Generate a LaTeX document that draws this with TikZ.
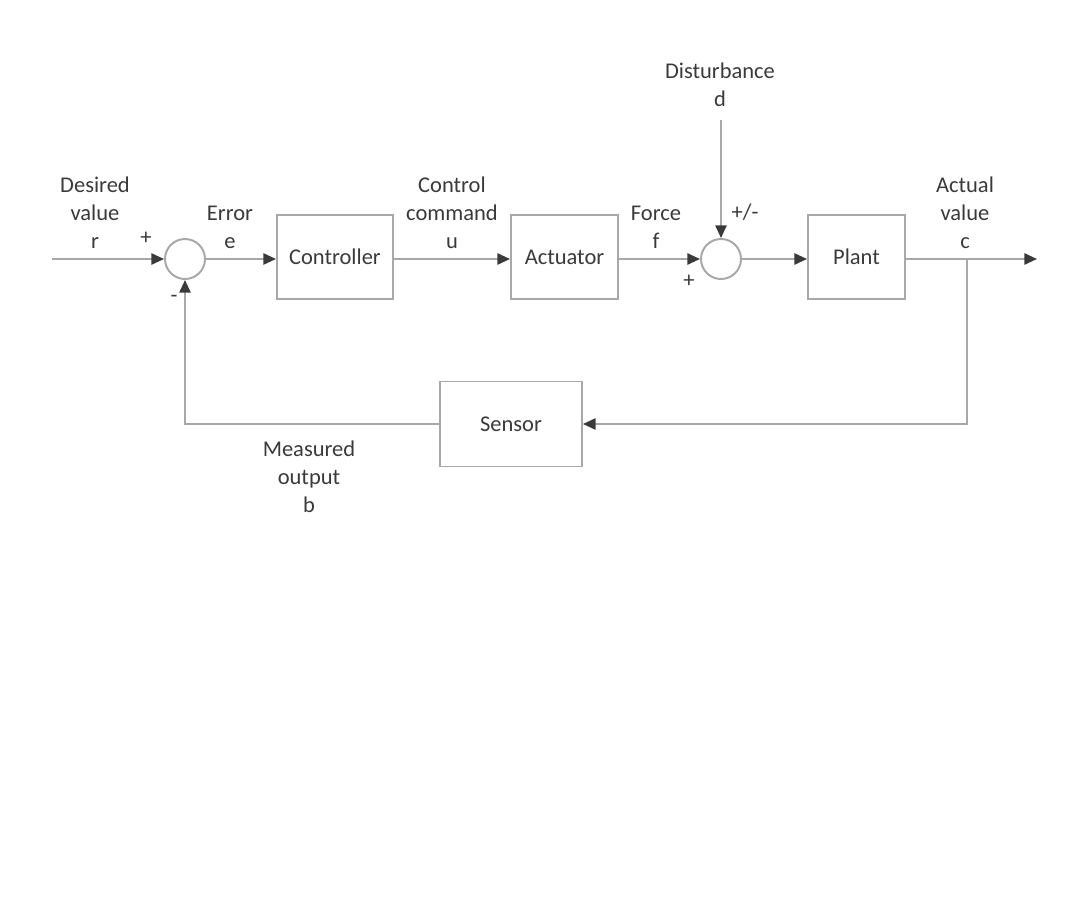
\documentclass[tikz,border=0pt]{standalone}
\usepackage{fontspec}
\setmainfont{Carlito}
\usetikzlibrary{arrows.meta,positioning}
\definecolor{linegray}{HTML}{A8A8A8}
\definecolor{textgray}{HTML}{3A3A3A}
\tikzset{
  block/.style={draw=linegray, line width=1.4pt, minimum width=#1, minimum height=2.08cm, font=\fontsize{16}{20}\selectfont, text=textgray},
  sum/.style={circle, draw=linegray, line width=1.4pt, minimum size=1cm, inner sep=0pt},
  lbl/.style={align=center, font=\fontsize{16}{20}\selectfont, text=textgray},
  sig/.style={draw=linegray, line width=1.4pt, -{Triangle[length=9pt,width=8pt,color=textgray]}},
}
\begin{document}
\begin{tikzpicture}[x=0.025cm, y=-0.025cm]
  \useasboundingbox (0,0) rectangle (1080,920);
  \coordinate (in) at (52,259);
  \node[sum] (sumA) at (185,259) {};
  \node[block=2.9cm] (ctrl) at (335,257) {Controller};
  \node[block=2.675cm] (act) at (564.5,257) {Actuator};
  \node[sum] (sumB) at (721,259) {};
  \node[block=2.425cm] (plant) at (856.5,257) {Plant};
  \coordinate (out) at (1037,259);
  \coordinate (branch) at (967,259);
  \coordinate (dtop) at (721,120);
  \node[block=3.55cm, minimum height=2.125cm] (sensor) at (511,424) {Sensor};

  \node[lbl] (rlbl) at (95,213) {Desired\\value\\r};
  \node[lbl] (plusA) at (146,238) {+};
  \node[lbl] (minusA) at (174,299) {-};
  \node[lbl] (elbl) at (230,227) {Error\\e};
  \node[lbl] (ulbl) at (452,213) {Control\\command\\u};
  \node[lbl] (flbl) at (656,227) {Force\\f};
  \node[lbl] (plusB) at (689,281) {+};
  \node[lbl] (pmB) at (745,212) {+/-};
  \node[lbl] (dlbl) at (720,85) {Disturbance\\d};
  \node[lbl] (clbl) at (965,213) {Actual\\value\\c};
  \node[lbl] (blbl) at (309,477) {Measured\\output\\b};

  \draw[sig] (in) -- (sumA);
  \draw[sig] (sumA) -- (ctrl.west |- in);
  \draw[sig] (ctrl.east |- in) -- (act.west |- in);
  \draw[sig] (act.east |- in) -- (sumB);
  \draw[sig] (dtop) -- (sumB.north);
  \draw[sig] (sumB) -- (plant.west |- in);
  \draw[sig] (plant.east |- in) -- (out);
  \draw[sig] (branch) |- (sensor.east);
  \draw[sig] (sensor.west) -| (sumA.south);
\end{tikzpicture}
\end{document}
